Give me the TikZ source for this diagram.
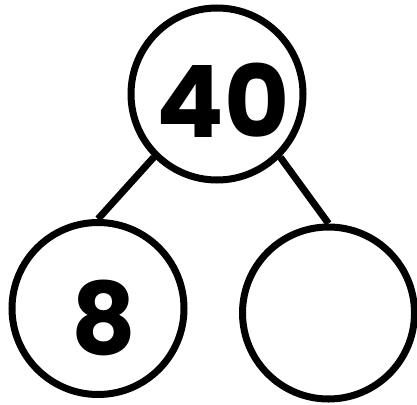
\documentclass[tikz,border=0pt]{standalone}
\usepackage{fontspec}
\newfontfamily\numfont{Poppins}
\begin{document}
\begin{tikzpicture}[x=1pt,y=-1pt,
  bubble/.style={circle,draw=black,line width=7pt,fill=white,inner sep=0pt,minimum size=172pt},
  num/.style={inner sep=0pt,font=\numfont\bfseries\fontsize{100}{100}\selectfont},
  link/.style={line width=7pt}]
\useasboundingbox (0,0) rectangle (417,404);
\node[bubble] (top) at (217,94) {};
\node[bubble] (left) at (98,308.5) {};
\node[bubble] (right) at (328.5,313) {};
\draw[link] (top.225) -- (left.north);
\draw[link] (top.315) -- (right.north);
\node[num] (t40) at (223,100) {40};
\node[num] (t8) at (104,317.5) {8};
\end{tikzpicture}
\end{document}
